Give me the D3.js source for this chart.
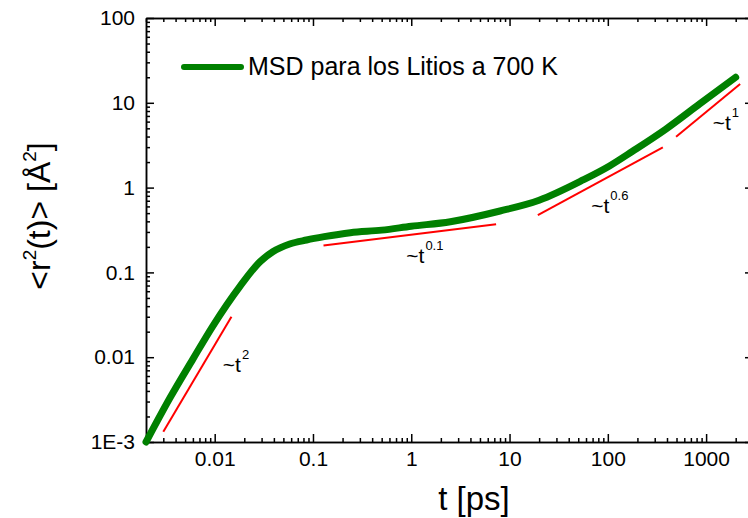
<!DOCTYPE html>
<html>
<head>
<meta charset="utf-8">
<script src="https://cdn.jsdelivr.net/npm/d3@7"></script>
<style>
  body { margin: 0; background: #fff; }
  text { font-family: Arial, "Liberation Sans", sans-serif; fill: #000; }
</style>
</head>
<body>
<script>
// MSD curve (t in ps, msd in A^2)
var tValues   = [0.002, 0.0035, 0.006, 0.0095, 0.018, 0.029, 0.039, 0.058, 0.086, 0.13, 0.24, 0.5, 1, 2.5, 8, 20, 56, 104, 180, 390, 860, 2000];
var msdValues = [0.001, 0.0033, 0.0095, 0.023, 0.068, 0.134, 0.175, 0.216, 0.241, 0.264, 0.294, 0.315, 0.35, 0.396, 0.53, 0.71, 1.23, 1.8, 2.7, 4.9, 9.7, 20];

// red power-law guide lines: [t start, t end], [msd start, msd end]
var guideNames = ["~t2", "~t0.1", "~t0.6", "~t1"];
var guideExponents = ["2", "0.1", "0.6", "1"];
var guideT   = [[0.003, 0.0148], [0.128, 7.3], [19.4, 363], [495, 2220]];
var guideMsd = [[0.00132, 0.030], [0.207, 0.369], [0.475, 2.98], [3.98, 16.7]];
// where the "~t^n" labels sit (data coords)
var labelT   = [0.0121, 0.89, 67.8, 1167];
var labelMsd = [0.00675, 0.128, 0.497, 4.78];

var xTicks = [0.01, 0.1, 1, 10, 100, 1000];
var xTickLabels = ["0.01", "0.1", "1", "10", "100", "1000"];
var yTicks = [0.001, 0.01, 0.1, 1, 10, 100];
var yTickLabels = ["1E-3", "0.01", "0.1", "1", "10", "100"];

var legendLabel = "MSD para los Litios a 700 K";

var width = 748, height = 518;
var plotLeft = 146, plotRight = 753, plotTop = 18, plotBottom = 442;

var svg = d3.select("body").append("svg")
    .attr("width", width)
    .attr("height", height);

var x = d3.scaleLog().domain([0.002, 3000]).range([plotLeft, plotRight]);
var y = d3.scaleLog().domain([0.001, 100]).range([plotBottom, plotTop]);

function minors(domain) {
  var out = [];
  for (var e = -4; e <= 4; e++) {
    for (var k = 2; k <= 9; k++) {
      var v = k * Math.pow(10, e);
      if (v >= domain[0] * 0.999 && v <= domain[1] * 1.001) out.push(v);
    }
  }
  return out;
}
var xMinor = minors(x.domain());
var yMinor = minors(y.domain());

function styleAxis(g) {
  g.selectAll("path").attr("stroke", "#000").attr("stroke-width", 1.5);
  g.selectAll("line").attr("stroke", "#000").attr("stroke-width", 1.5);
  g.selectAll("text").attr("font-size", 21).attr("fill", "#000")
    .attr("font-family", "Arial, 'Liberation Sans', sans-serif");
}

// bottom axis, ticks inward
svg.append("g")
    .attr("transform", "translate(0," + plotBottom + ")")
    .call(d3.axisBottom(x).tickValues(xMinor).tickSize(-4).tickSizeOuter(0).tickFormat(""))
    .call(styleAxis);
svg.append("g")
    .attr("transform", "translate(0," + plotBottom + ")")
    .call(d3.axisBottom(x).tickValues(xTicks).tickSize(-8).tickSizeOuter(0).tickPadding(9)
      .tickFormat(function(d, i) { return xTickLabels[i]; }))
    .call(styleAxis);

// top axis, ticks inward, no labels
svg.append("g")
    .attr("transform", "translate(0," + plotTop + ")")
    .call(d3.axisTop(x).tickValues(xMinor).tickSize(-4).tickSizeOuter(0).tickFormat(""))
    .call(styleAxis);
svg.append("g")
    .attr("transform", "translate(0," + plotTop + ")")
    .call(d3.axisTop(x).tickValues(xTicks).tickSize(-8).tickSizeOuter(0).tickFormat(""))
    .call(styleAxis);

// left axis
svg.append("g")
    .attr("transform", "translate(" + plotLeft + ",0)")
    .call(d3.axisLeft(y).tickValues(yMinor).tickSize(-4).tickSizeOuter(0).tickFormat(""))
    .call(styleAxis);
svg.append("g")
    .attr("transform", "translate(" + plotLeft + ",0)")
    .call(d3.axisLeft(y).tickValues(yTicks).tickSize(-8).tickSizeOuter(0).tickPadding(11)
      .tickFormat(function(d, i) { return yTickLabels[i]; }))
    .call(styleAxis);

// right axis (mostly off the edge)
svg.append("g")
    .attr("transform", "translate(" + plotRight + ",0)")
    .call(d3.axisRight(y).tickValues(yMinor).tickSize(-4).tickSizeOuter(0).tickFormat(""))
    .call(styleAxis);
svg.append("g")
    .attr("transform", "translate(" + plotRight + ",0)")
    .call(d3.axisRight(y).tickValues(yTicks).tickSize(-8).tickSizeOuter(0).tickFormat(""))
    .call(styleAxis);

// guide lines
var guides = guideT.map(function(t, i) {
  return { name: guideNames[i], pts: [[t[0], guideMsd[i][0]], [t[1], guideMsd[i][1]]] };
});
var line = d3.line()
    .x(function(d) { return x(d[0]); })
    .y(function(d) { return y(d[1]); });

svg.selectAll("path.guide")
    .data(guides)
    .enter()
    .append("path")
    .attr("class", "guide")
    .attr("d", function(d) { return line(d.pts); })
    .attr("fill", "none")
    .attr("stroke", "#ff0000")
    .attr("stroke-width", 2);

// MSD curve
var curveData = tValues.map(function(t, i) { return [t, msdValues[i]]; });
svg.append("path")
    .datum(curveData)
    .attr("d", line.curve(d3.curveMonotoneX))
    .attr("fill", "none")
    .attr("stroke", "#008000")
    .attr("stroke-width", 7)
    .attr("stroke-linecap", "round")
    .attr("stroke-linejoin", "round");

// ~t^n labels
var labels = svg.selectAll("text.guide-label")
    .data(guideExponents)
    .enter()
    .append("text")
    .attr("class", "guide-label")
    .attr("x", function(d, i) { return x(labelT[i]); })
    .attr("y", function(d, i) { return y(labelMsd[i]); })
    .attr("font-size", 21);
labels.append("tspan").text("~t");
labels.append("tspan")
    .attr("dy", -13)
    .attr("dx", 1)
    .attr("font-size", 13)
    .text(function(d) { return d; });

// legend
svg.append("line")
    .attr("x1", 184).attr("x2", 241)
    .attr("y1", 67).attr("y2", 67)
    .attr("stroke", "#008000")
    .attr("stroke-width", 6)
    .attr("stroke-linecap", "round");
svg.append("text")
    .attr("x", 248)
    .attr("y", 75)
    .attr("font-size", 25)
    .text(legendLabel);

// axis titles
svg.append("text")
    .attr("x", 474)
    .attr("y", 510)
    .attr("text-anchor", "middle")
    .attr("font-size", 33)
    .text("t [ps]");

var yTitle = svg.append("text")
    .attr("transform", "translate(50,216) rotate(-90)")
    .attr("text-anchor", "middle")
    .attr("font-size", 32);
yTitle.append("tspan").text("<r");
yTitle.append("tspan").attr("font-size", 19).attr("dy", -14).text("2");
yTitle.append("tspan").attr("dy", 14).text("(t)> [Å");
yTitle.append("tspan").attr("font-size", 19).attr("dy", -14).text("2");
yTitle.append("tspan").attr("dy", 14).text("]");
</script>
</body>
</html>
